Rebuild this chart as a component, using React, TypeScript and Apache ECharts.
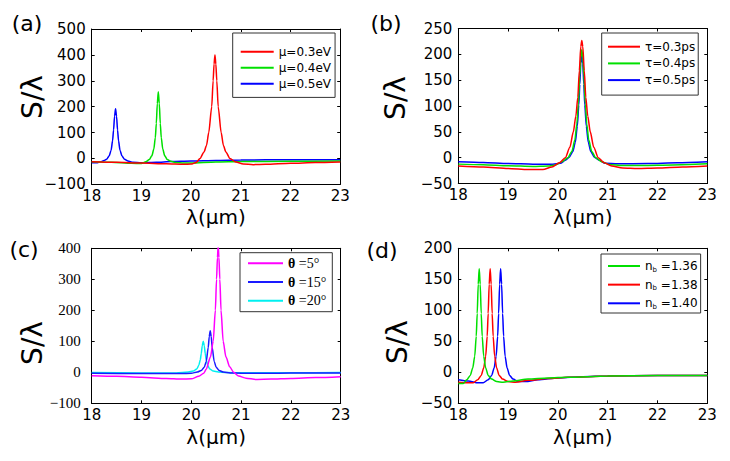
import React, { useEffect, useRef } from "react";
import * as echarts from "echarts";

// ---------- data ----------
const xTicks = { min: 18, max: 23, interval: 1 };

// (a) chemical potential
const muA03: number[][] = [[18.0,-13],[18.5,-15],[19.0,-18],[19.5,-21],[19.85,-23],[20.0,-22],[20.1,-16],[20.18,0],[20.26,25],[20.31,50],[20.355,100],[20.415,200],[20.443,300],[20.462,365],[20.48,400],[20.498,365],[20.517,300],[20.545,200],[20.605,100],[20.65,50],[20.7,25],[20.78,0],[20.9,-14],[21.05,-22],[21.25,-24],[21.5,-23],[22.0,-19],[22.5,-16],[23.0,-14]];
const muA04: number[][] = [[18.0,-13],[18.4,-15],[18.8,-19],[19.0,-20],[19.09,-13],[19.16,-4],[19.21,10],[19.25,36],[19.28,80],[19.3,135],[19.32,212],[19.34,258],[19.36,212],[19.38,135],[19.4,80],[19.43,36],[19.47,10],[19.52,-4],[19.59,-11],[19.7,-16],[19.85,-18],[20.0,-18],[20.5,-14],[21.0,-12],[22.0,-11],[23.0,-10]];
const muA05: number[][] = [[18.0,-17],[18.1,-17],[18.18,-13],[18.25,-8],[18.3,-3],[18.35,9],[18.39,31],[18.42,68],[18.44,110],[18.46,163],[18.48,192],[18.5,163],[18.52,110],[18.54,68],[18.57,31],[18.61,9],[18.66,-3],[18.73,-10],[18.83,-15],[19.0,-17],[19.3,-15],[19.6,-12],[20.0,-10],[20.5,-8],[21.0,-6],[22.0,-5],[23.0,-5]];

// (b) relaxation time
const tauB03: number[][] = [[18.0,-16],[18.5,-18],[19.0,-21],[19.4,-23],[19.7,-23],[19.88,-18],[20.03,-10],[20.15,0],[20.24,20],[20.31,50],[20.36,80],[20.4,117],[20.43,168],[20.46,215],[20.48,227],[20.5,215],[20.53,168],[20.56,117],[20.6,80],[20.65,50],[20.72,20],[20.81,0],[20.93,-10],[21.08,-16],[21.3,-20],[21.6,-21],[22.0,-20],[22.5,-18],[23.0,-16]];
const tauB04: number[][] = [[18.0,-12.5],[18.5,-13.5],[19.0,-15.5],[19.5,-17],[19.8,-16],[19.95,-14],[20.08,-8],[20.2,0],[20.28,12],[20.34,34],[20.38,65],[20.41,104],[20.44,159],[20.46,194],[20.48,209],[20.5,194],[20.52,159],[20.55,104],[20.58,65],[20.62,34],[20.68,12],[20.76,0],[20.88,-8],[21.03,-13],[21.3,-15],[21.7,-15],[22.3,-14],[23.0,-12]];
const tauB05: number[][] = [[18.0,-8],[18.5,-9.5],[19.0,-11.5],[19.5,-12.5],[19.9,-12.5],[20.05,-11],[20.15,-5],[20.23,1],[20.3,12],[20.35,30],[20.39,61],[20.42,102],[20.44,142],[20.46,182],[20.48,200],[20.5,182],[20.52,142],[20.54,102],[20.57,61],[20.61,30],[20.66,12],[20.73,1],[20.83,-5],[20.95,-11],[21.2,-12],[21.8,-11.5],[22.4,-10],[23.0,-8]];

// (c) incidence angle
const thetaC5: number[][] = [[18.0,-11],[18.5,-13],[19.0,-16],[19.5,-20],[19.8,-22],[20.0,-21],[20.15,-13],[20.25,-3],[20.3,10],[20.385,50],[20.44,100],[20.483,200],[20.507,300],[20.525,370],[20.54,410],[20.555,370],[20.573,300],[20.597,200],[20.64,100],[20.695,50],[20.77,18],[20.85,0],[20.95,-12],[21.1,-19],[21.3,-23],[21.6,-22],[22.0,-20],[22.5,-17],[23.0,-14]];
const thetaC15: number[][] = [[18.0,-3],[19.0,-4],[19.8,-4],[20.0,-3],[20.12,1],[20.2,6],[20.26,16],[20.3,35],[20.34,80],[20.36,115],[20.38,134],[20.4,115],[20.42,80],[20.46,35],[20.5,16],[20.56,6],[20.64,1],[20.78,-2],[21.0,-3],[21.5,-3],[22.0,-2.5],[23.0,-2]];
const thetaC20: number[][] = [[18.0,-1],[19.0,-2],[19.7,-2],[19.94,1],[20.04,4],[20.11,11],[20.15,22],[20.18,40],[20.2,60],[20.22,86],[20.24,100],[20.26,86],[20.28,60],[20.3,40],[20.33,22],[20.37,11],[20.44,4],[20.54,1],[20.7,-1],[21.0,-1.5],[22.0,-1.5],[23.0,-1]];

// (d) background index
const nbD136: number[][] = [[18.0,-18],[18.1,-18],[18.17,-12],[18.24,-5],[18.29,7],[18.33,26],[18.36,58],[18.38,95],[18.4,142],[18.42,167],[18.44,142],[18.46,95],[18.48,58],[18.51,26],[18.55,7],[18.6,-5],[18.67,-11],[18.77,-15],[18.9,-16],[19.1,-14],[19.4,-11],[19.8,-9],[20.2,-8],[21.0,-6],[22.0,-5],[23.0,-5]];
const nbD138: number[][] = [[18.0,-16],[18.2,-17],[18.3,-17],[18.39,-12],[18.46,-5],[18.51,7],[18.55,26],[18.58,58],[18.6,95],[18.62,142],[18.64,167],[18.66,142],[18.68,95],[18.7,58],[18.73,26],[18.77,7],[18.82,-5],[18.89,-11],[19.0,-15],[19.15,-16],[19.4,-13],[19.8,-10],[20.2,-8],[21.0,-6],[22.0,-5],[23.0,-5]];
const nbD140: number[][] = [[18.0,-12],[18.2,-14],[18.4,-17],[18.5,-17],[18.6,-12],[18.67,-5],[18.72,7],[18.76,26],[18.79,58],[18.81,95],[18.83,142],[18.85,167],[18.87,142],[18.89,95],[18.91,58],[18.94,26],[18.98,7],[19.03,-5],[19.1,-11],[19.2,-15],[19.35,-15],[19.6,-12],[20.0,-9],[20.5,-7],[21.0,-6],[22.0,-5],[23.0,-5]];

const namesA = ["μ=0.3eV", "μ=0.4eV", "μ=0.5eV"];
const namesB = ["τ=0.3ps", "τ=0.4ps", "τ=0.5ps"];
const namesC = ["θ =5°", "θ =15°", "θ =20°"];
const namesD = ["n_b =1.36", "n_b =1.38", "n_b =1.40"];
const panelLabels = ["(a)", "(b)", "(c)", "(d)"];

// ---------- styling ----------
const SANS = "'DejaVu Sans', sans-serif";
const SERIF = "'Liberation Serif', 'DejaVu Serif', serif";
const INK = "#000";

const panels = [
  { grid: { left: 91.7, top: 29, width: 248.5, height: 155.3 }, y: [-100, 500, 100], yFont: SANS, yFontSize: 15, yMargin: 6,
    series: [muA03, muA04, muA05], names: namesA, colors: ["#ff0000", "#00e000", "#0000ff"],
    legend: { left: 232.7, top: 33, padding: [11.7, 4, 6.7, 8], itemGap: 2, itemWidth: 33, font: SANS, fontSize: 12 },
    label: { x: 27, y: 23 }, yName: { x: 32, y: 97 } },
  { grid: { left: 458.3, top: 28.5, width: 249, height: 155 }, y: [-50, 250, 50], yFont: SANS, yFontSize: 15, yMargin: 6,
    series: [tauB03, tauB04, tauB05], names: namesB, colors: ["#ff0000", "#00e000", "#0000ff"],
    legend: { left: 601.7, top: 33, padding: [6.7, 3, 8, 6.3], itemGap: 2.7, itemWidth: 32, font: SANS, fontSize: 12 },
    label: { x: 386, y: 23 }, yName: { x: 395, y: 98 } },
  { grid: { left: 91.7, top: 248.3, width: 249, height: 155 }, y: [-100, 400, 100], yFont: SERIF, yFontSize: 15, yMargin: 11,
    series: [thetaC5, thetaC15, thetaC20], names: namesC, colors: ["#ff00ff", "#1a1aff", "#00f0f0"],
    legend: { left: 240, top: 252.7, padding: [3.6, 6, 4, 8], itemGap: 4.7, itemWidth: 35, font: SERIF, fontSize: 14 },
    label: { x: 24, y: 249 }, yName: { x: 32, y: 343 } },
  { grid: { left: 458.3, top: 248.3, width: 249, height: 155 }, y: [-50, 200, 50], yFont: SANS, yFontSize: 15, yMargin: 6,
    series: [nbD136, nbD138, nbD140], names: namesD, colors: ["#00e000", "#ff0000", "#0000ff"],
    legend: { left: 601, top: 254, padding: [5, 3, 2.7, 7], itemGap: 4.65, itemWidth: 32, font: SANS, fontSize: 12 },
    label: { x: 382, y: 250 }, yName: { x: 397, y: 342 } },
];

const minusFmt = (v: number) => String(v).replace("-", "\u2212");

function buildOption() {
  const grid: any[] = [];
  const xAxis: any[] = [];
  const yAxis: any[] = [];
  const series: any[] = [];
  const legend: any[] = [];
  const graphic: any[] = [];

  panels.forEach((p, i) => {
    grid.push({ ...p.grid, containLabel: false });
    const baseLine = { show: true, onZero: false, lineStyle: { color: INK, width: 1 } };
    const tick = { show: true, inside: true, length: 3, lineStyle: { color: INK, width: 1 } };
    // bottom x axis
    xAxis.push({
      gridIndex: i, type: "value", position: "bottom", min: xTicks.min, max: xTicks.max, interval: xTicks.interval,
      axisLine: baseLine, axisTick: tick, splitLine: { show: false },
      axisLabel: { color: INK, fontFamily: SANS, fontSize: 15, margin: 4 },
      name: "λ(μm)", nameLocation: "middle", nameGap: i < 2 ? 33 : 34,
      nameTextStyle: { color: INK, fontFamily: SANS, fontSize: 20, verticalAlign: "middle" },
    });
    // top x axis (box)
    xAxis.push({
      gridIndex: i, type: "value", position: "top", min: xTicks.min, max: xTicks.max, interval: xTicks.interval,
      axisLine: baseLine, axisTick: tick, splitLine: { show: false }, axisLabel: { show: false },
    });
    // left y axis
    yAxis.push({
      gridIndex: i, type: "value", position: "left", min: p.y[0], max: p.y[1], interval: p.y[2],
      axisLine: baseLine, axisTick: tick, splitLine: { show: false },
      axisLabel: { color: INK, fontFamily: p.yFont, fontSize: p.yFontSize, margin: p.yMargin, formatter: minusFmt },
    });
    // right y axis (box)
    yAxis.push({
      gridIndex: i, type: "value", position: "right", min: p.y[0], max: p.y[1], interval: p.y[2],
      axisLine: baseLine, axisTick: tick, splitLine: { show: false }, axisLabel: { show: false },
    });

    p.series.forEach((data, k) => {
      series.push({
        type: "line", name: p.names[k], data, xAxisIndex: i * 2, yAxisIndex: i * 2,
        showSymbol: false, symbol: "none", smooth: 0.25, smoothMonotone: "x", clip: true,
        color: p.colors[k], lineStyle: { width: 1.5, color: p.colors[k] }, z: 3 - k + 2,
      });
    });

    const lg: any = {
      data: p.names, orient: "vertical", left: p.legend.left, top: p.legend.top,
      padding: p.legend.padding, itemGap: p.legend.itemGap, itemWidth: p.legend.itemWidth, itemHeight: 2, icon: "rect",
      align: "left", borderColor: "#333", borderWidth: 1, backgroundColor: "#fff",
      selectedMode: false, itemStyle: { borderWidth: 0 },
      textStyle: { color: INK, fontFamily: p.legend.font, fontSize: p.legend.fontSize, lineHeight: 14 },
    };
    if (i === 2) {
      lg.formatter = (name: string) => `{th|θ}{r|${name.slice(1)}}`;
      lg.textStyle.rich = {
        th: { fontFamily: SERIF, fontWeight: "bold", fontSize: 14, color: INK, lineHeight: 14 },
        r: { fontFamily: SERIF, fontSize: 14, color: INK, lineHeight: 14 },
      };
    }
    if (i === 3) {
      lg.formatter = (name: string) => `{n|n}{s|b}{r|${name.slice(3)}}`;
      lg.textStyle.rich = {
        n: { fontFamily: SANS, fontSize: 12, color: INK, lineHeight: 14 },
        s: { fontFamily: SANS, fontSize: 7, color: INK, lineHeight: 14, verticalAlign: "bottom", padding: [6, 0, 0, 0] },
        r: { fontFamily: SANS, fontSize: 12, color: INK, lineHeight: 14 },
      };
    }
    legend.push(lg);

    graphic.push({
      type: "text", x: p.label.x, y: p.label.y,
      style: { text: panelLabels[i], fill: INK, font: `22px ${SANS}`, textAlign: "center", textVerticalAlign: "middle", align: "center", verticalAlign: "middle" },
    });
    graphic.push({
      type: "text", x: p.yName.x, y: p.yName.y, rotation: Math.PI / 2,
      style: { text: "S/λ", fill: INK, font: `28px ${SANS}`, textAlign: "center", textVerticalAlign: "middle", align: "center", verticalAlign: "middle" },
    });
  });

  return { animation: false, backgroundColor: "#fff", grid, xAxis, yAxis, series, legend, graphic };
}

export default function App() {
  const ref = useRef<HTMLDivElement>(null);
  useEffect(() => {
    if (!ref.current) return;
    const chart = echarts.init(ref.current, undefined, { renderer: "svg" });
    chart.setOption(buildOption() as any);
    return () => chart.dispose();
  }, []);
  return <div ref={ref} style={{ position: "fixed", left: 0, top: 0, width: 730, height: 461, background: "#fff" }} />;
}
